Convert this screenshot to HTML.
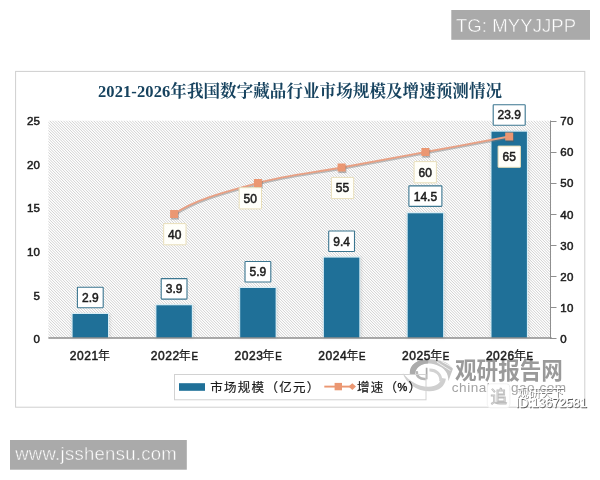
<!DOCTYPE html>
<html><head><meta charset="utf-8"><title>chart</title>
<style>html,body{margin:0;padding:0;background:#fff;}body{width:600px;height:480px;overflow:hidden;font-family:"Liberation Sans",sans-serif;}svg{display:block}text{opacity:0.999}</style>
</head><body>
<svg width="600" height="480" viewBox="0 0 600 480">
<defs>
<filter id="sh" x="-20%" y="-20%" width="150%" height="150%"><feGaussianBlur stdDeviation="1"/></filter>
<filter id="b05" x="-10%" y="-10%" width="120%" height="120%"><feGaussianBlur stdDeviation="0.4"/></filter>
</defs>
<rect width="600" height="480" fill="#fff"/>
<rect x="451.3" y="10" width="138.7" height="29.8" fill="#aaaaaa"/>
<text x="455.9" y="31.8" font-family="Liberation Sans, sans-serif" font-size="18.5" letter-spacing="0.1" fill="#fff" stroke="#aaaaaa" stroke-width="0.45">TG: MYYJJPP</text>
<rect x="10" y="440" width="176.8" height="29.7" fill="#aaaaaa"/>
<text x="15.2" y="459.8" font-family="Liberation Sans, sans-serif" font-size="18.5" letter-spacing="0.28" fill="#fff" stroke="#aaaaaa" stroke-width="0.45">www.jsshensu.com</text>
<rect x="15.6" y="71.4" width="569.2" height="335.8" fill="#fff" stroke="#cfcfcf" stroke-width="1"/>
<clipPath id="pc"><rect x="48.4" y="120.5" width="502.70000000000005" height="217.5"/></clipPath>
<path d="M-170.60,120.5l218.0,218.0M-167.85,120.5l218.0,218.0M-165.10,120.5l218.0,218.0M-162.35,120.5l218.0,218.0M-159.60,120.5l218.0,218.0M-156.85,120.5l218.0,218.0M-154.10,120.5l218.0,218.0M-151.35,120.5l218.0,218.0M-148.60,120.5l218.0,218.0M-145.85,120.5l218.0,218.0M-143.10,120.5l218.0,218.0M-140.35,120.5l218.0,218.0M-137.60,120.5l218.0,218.0M-134.85,120.5l218.0,218.0M-132.10,120.5l218.0,218.0M-129.35,120.5l218.0,218.0M-126.60,120.5l218.0,218.0M-123.85,120.5l218.0,218.0M-121.10,120.5l218.0,218.0M-118.35,120.5l218.0,218.0M-115.60,120.5l218.0,218.0M-112.85,120.5l218.0,218.0M-110.10,120.5l218.0,218.0M-107.35,120.5l218.0,218.0M-104.60,120.5l218.0,218.0M-101.85,120.5l218.0,218.0M-99.10,120.5l218.0,218.0M-96.35,120.5l218.0,218.0M-93.60,120.5l218.0,218.0M-90.85,120.5l218.0,218.0M-88.10,120.5l218.0,218.0M-85.35,120.5l218.0,218.0M-82.60,120.5l218.0,218.0M-79.85,120.5l218.0,218.0M-77.10,120.5l218.0,218.0M-74.35,120.5l218.0,218.0M-71.60,120.5l218.0,218.0M-68.85,120.5l218.0,218.0M-66.10,120.5l218.0,218.0M-63.35,120.5l218.0,218.0M-60.60,120.5l218.0,218.0M-57.85,120.5l218.0,218.0M-55.10,120.5l218.0,218.0M-52.35,120.5l218.0,218.0M-49.60,120.5l218.0,218.0M-46.85,120.5l218.0,218.0M-44.10,120.5l218.0,218.0M-41.35,120.5l218.0,218.0M-38.60,120.5l218.0,218.0M-35.85,120.5l218.0,218.0M-33.10,120.5l218.0,218.0M-30.35,120.5l218.0,218.0M-27.60,120.5l218.0,218.0M-24.85,120.5l218.0,218.0M-22.10,120.5l218.0,218.0M-19.35,120.5l218.0,218.0M-16.60,120.5l218.0,218.0M-13.85,120.5l218.0,218.0M-11.10,120.5l218.0,218.0M-8.35,120.5l218.0,218.0M-5.60,120.5l218.0,218.0M-2.85,120.5l218.0,218.0M-0.10,120.5l218.0,218.0M2.65,120.5l218.0,218.0M5.40,120.5l218.0,218.0M8.15,120.5l218.0,218.0M10.90,120.5l218.0,218.0M13.65,120.5l218.0,218.0M16.40,120.5l218.0,218.0M19.15,120.5l218.0,218.0M21.90,120.5l218.0,218.0M24.65,120.5l218.0,218.0M27.40,120.5l218.0,218.0M30.15,120.5l218.0,218.0M32.90,120.5l218.0,218.0M35.65,120.5l218.0,218.0M38.40,120.5l218.0,218.0M41.15,120.5l218.0,218.0M43.90,120.5l218.0,218.0M46.65,120.5l218.0,218.0M49.40,120.5l218.0,218.0M52.15,120.5l218.0,218.0M54.90,120.5l218.0,218.0M57.65,120.5l218.0,218.0M60.40,120.5l218.0,218.0M63.15,120.5l218.0,218.0M65.90,120.5l218.0,218.0M68.65,120.5l218.0,218.0M71.40,120.5l218.0,218.0M74.15,120.5l218.0,218.0M76.90,120.5l218.0,218.0M79.65,120.5l218.0,218.0M82.40,120.5l218.0,218.0M85.15,120.5l218.0,218.0M87.90,120.5l218.0,218.0M90.65,120.5l218.0,218.0M93.40,120.5l218.0,218.0M96.15,120.5l218.0,218.0M98.90,120.5l218.0,218.0M101.65,120.5l218.0,218.0M104.40,120.5l218.0,218.0M107.15,120.5l218.0,218.0M109.90,120.5l218.0,218.0M112.65,120.5l218.0,218.0M115.40,120.5l218.0,218.0M118.15,120.5l218.0,218.0M120.90,120.5l218.0,218.0M123.65,120.5l218.0,218.0M126.40,120.5l218.0,218.0M129.15,120.5l218.0,218.0M131.90,120.5l218.0,218.0M134.65,120.5l218.0,218.0M137.40,120.5l218.0,218.0M140.15,120.5l218.0,218.0M142.90,120.5l218.0,218.0M145.65,120.5l218.0,218.0M148.40,120.5l218.0,218.0M151.15,120.5l218.0,218.0M153.90,120.5l218.0,218.0M156.65,120.5l218.0,218.0M159.40,120.5l218.0,218.0M162.15,120.5l218.0,218.0M164.90,120.5l218.0,218.0M167.65,120.5l218.0,218.0M170.40,120.5l218.0,218.0M173.15,120.5l218.0,218.0M175.90,120.5l218.0,218.0M178.65,120.5l218.0,218.0M181.40,120.5l218.0,218.0M184.15,120.5l218.0,218.0M186.90,120.5l218.0,218.0M189.65,120.5l218.0,218.0M192.40,120.5l218.0,218.0M195.15,120.5l218.0,218.0M197.90,120.5l218.0,218.0M200.65,120.5l218.0,218.0M203.40,120.5l218.0,218.0M206.15,120.5l218.0,218.0M208.90,120.5l218.0,218.0M211.65,120.5l218.0,218.0M214.40,120.5l218.0,218.0M217.15,120.5l218.0,218.0M219.90,120.5l218.0,218.0M222.65,120.5l218.0,218.0M225.40,120.5l218.0,218.0M228.15,120.5l218.0,218.0M230.90,120.5l218.0,218.0M233.65,120.5l218.0,218.0M236.40,120.5l218.0,218.0M239.15,120.5l218.0,218.0M241.90,120.5l218.0,218.0M244.65,120.5l218.0,218.0M247.40,120.5l218.0,218.0M250.15,120.5l218.0,218.0M252.90,120.5l218.0,218.0M255.65,120.5l218.0,218.0M258.40,120.5l218.0,218.0M261.15,120.5l218.0,218.0M263.90,120.5l218.0,218.0M266.65,120.5l218.0,218.0M269.40,120.5l218.0,218.0M272.15,120.5l218.0,218.0M274.90,120.5l218.0,218.0M277.65,120.5l218.0,218.0M280.40,120.5l218.0,218.0M283.15,120.5l218.0,218.0M285.90,120.5l218.0,218.0M288.65,120.5l218.0,218.0M291.40,120.5l218.0,218.0M294.15,120.5l218.0,218.0M296.90,120.5l218.0,218.0M299.65,120.5l218.0,218.0M302.40,120.5l218.0,218.0M305.15,120.5l218.0,218.0M307.90,120.5l218.0,218.0M310.65,120.5l218.0,218.0M313.40,120.5l218.0,218.0M316.15,120.5l218.0,218.0M318.90,120.5l218.0,218.0M321.65,120.5l218.0,218.0M324.40,120.5l218.0,218.0M327.15,120.5l218.0,218.0M329.90,120.5l218.0,218.0M332.65,120.5l218.0,218.0M335.40,120.5l218.0,218.0M338.15,120.5l218.0,218.0M340.90,120.5l218.0,218.0M343.65,120.5l218.0,218.0M346.40,120.5l218.0,218.0M349.15,120.5l218.0,218.0M351.90,120.5l218.0,218.0M354.65,120.5l218.0,218.0M357.40,120.5l218.0,218.0M360.15,120.5l218.0,218.0M362.90,120.5l218.0,218.0M365.65,120.5l218.0,218.0M368.40,120.5l218.0,218.0M371.15,120.5l218.0,218.0M373.90,120.5l218.0,218.0M376.65,120.5l218.0,218.0M379.40,120.5l218.0,218.0M382.15,120.5l218.0,218.0M384.90,120.5l218.0,218.0M387.65,120.5l218.0,218.0M390.40,120.5l218.0,218.0M393.15,120.5l218.0,218.0M395.90,120.5l218.0,218.0M398.65,120.5l218.0,218.0M401.40,120.5l218.0,218.0M404.15,120.5l218.0,218.0M406.90,120.5l218.0,218.0M409.65,120.5l218.0,218.0M412.40,120.5l218.0,218.0M415.15,120.5l218.0,218.0M417.90,120.5l218.0,218.0M420.65,120.5l218.0,218.0M423.40,120.5l218.0,218.0M426.15,120.5l218.0,218.0M428.90,120.5l218.0,218.0M431.65,120.5l218.0,218.0M434.40,120.5l218.0,218.0M437.15,120.5l218.0,218.0M439.90,120.5l218.0,218.0M442.65,120.5l218.0,218.0M445.40,120.5l218.0,218.0M448.15,120.5l218.0,218.0M450.90,120.5l218.0,218.0M453.65,120.5l218.0,218.0M456.40,120.5l218.0,218.0M459.15,120.5l218.0,218.0M461.90,120.5l218.0,218.0M464.65,120.5l218.0,218.0M467.40,120.5l218.0,218.0M470.15,120.5l218.0,218.0M472.90,120.5l218.0,218.0M475.65,120.5l218.0,218.0M478.40,120.5l218.0,218.0M481.15,120.5l218.0,218.0M483.90,120.5l218.0,218.0M486.65,120.5l218.0,218.0M489.40,120.5l218.0,218.0M492.15,120.5l218.0,218.0M494.90,120.5l218.0,218.0M497.65,120.5l218.0,218.0M500.40,120.5l218.0,218.0M503.15,120.5l218.0,218.0M505.90,120.5l218.0,218.0M508.65,120.5l218.0,218.0M511.40,120.5l218.0,218.0M514.15,120.5l218.0,218.0M516.90,120.5l218.0,218.0M519.65,120.5l218.0,218.0M522.40,120.5l218.0,218.0M525.15,120.5l218.0,218.0M527.90,120.5l218.0,218.0M530.65,120.5l218.0,218.0M533.40,120.5l218.0,218.0M536.15,120.5l218.0,218.0M538.90,120.5l218.0,218.0M541.65,120.5l218.0,218.0M544.40,120.5l218.0,218.0M547.15,120.5l218.0,218.0M549.90,120.5l218.0,218.0" stroke="#d0d0d0" stroke-width="1.0" fill="none" clip-path="url(#pc)"/>
<g><text x="455" y="378.3" transform="translate(0,378.6) scale(1,1.1) translate(0,-378.3)" font-family="Liberation Sans, Noto Sans CJK SC, sans-serif" font-size="21.6" font-weight="bold" fill="#9a9a9a" opacity="0.95">观研报告网</text></g>
<text x="451.8" y="392.3" font-family="Liberation Sans, sans-serif" font-size="13.6" fill="#a4a4a4" letter-spacing="0.5">chinabaogao.com</text>
<g transform="translate(428,375) scale(1.07) translate(-428.5,-374.6)"><path d="M411.5,373.5 C411,364.5 419,359.8 430,359.8 C440,359.8 448.5,363 451.8,368.8 L447.5,380.5 C447.8,373 444,367.8 436.5,365.3 C433,364.1 430,363.8 428,363.9 C421,364.3 417,368 416.2,373.8 Z" fill="#c6c6c6"/><path d="M411.5,373.5 C411,364.5 419,359.8 429,359.8 L428.5,363.9 C421,364.3 417,368 416.2,373.8 Z" fill="#ababab"/><path d="M437,362.6 L449.5,370.5 M441,361.8 L451,367.2" stroke="#fff" stroke-width="0.9" opacity="0.8" fill="none"/><path d="M404.8,372.8 C408,382 418,390.3 430,389.8 C439,389.5 444.3,385 445.2,378 L441.2,377.5 C440.2,382.3 436,385.6 429,385.6 C419,385.6 411,380 404.8,372.8 Z" fill="#cfcfcf"/><path d="M427.2,367.8 V378.6" stroke="#ababab" stroke-width="1.6" fill="none"/><path d="M418,371 C417.4,376 421,379 426.8,378.3" stroke="#b6b6b6" stroke-width="2.4" fill="none"/><path d="M429.8,370 C436,369.8 441,374 440.4,380.5" stroke="#d2d2d2" stroke-width="2.8" fill="none"/></g>
<rect x="487.3" y="383.8" width="22.6" height="24" rx="3.5" fill="#fff" stroke="#efefef" stroke-width="0.8"/>
<text x="490.6" y="403" font-family="Liberation Sans, Noto Sans CJK SC, sans-serif" font-size="16.5" fill="#fff" stroke="#bdbdbd" stroke-width="0.85">追</text>
<g><text x="517" y="397.2" transform="translate(0.8,0.8)" font-family="Liberation Sans, Noto Sans CJK SC, sans-serif" font-size="11.7" fill="#7a7a7a">观研天下</text><text x="517" y="397.2" font-family="Liberation Sans, Noto Sans CJK SC, sans-serif" font-size="11.7" fill="#fff">观研天下</text></g>
<text x="516.6" y="408.2" font-family="Liberation Sans, sans-serif" font-size="12.4" fill="#5a5a5a" stroke="#5a5a5a" stroke-width="0.3">ID:13672581</text>
<text x="515.8" y="407.4" font-family="Liberation Sans, sans-serif" font-size="12.4" fill="#fff" stroke="#fff" stroke-width="0.3">ID:13672581</text>
<g><text x="98" y="97.2" textLength="404" lengthAdjust="spacing" font-family="Liberation Serif, Noto Serif CJK SC, serif" font-size="16.5" font-weight="bold" fill="#17435f">2021-2026年我国数字藏品行业市场规模及增速预测情况</text></g>
<text x="40.3" y="343.1" text-anchor="end" font-family="Liberation Sans, sans-serif" font-size="11.5" letter-spacing="0.3" fill="#1c1c1c" stroke="#1c1c1c" stroke-width="0.5">0</text>
<text x="40.3" y="299.5" text-anchor="end" font-family="Liberation Sans, sans-serif" font-size="11.5" letter-spacing="0.3" fill="#1c1c1c" stroke="#1c1c1c" stroke-width="0.5">5</text>
<text x="40.3" y="255.9" text-anchor="end" font-family="Liberation Sans, sans-serif" font-size="11.5" letter-spacing="0.3" fill="#1c1c1c" stroke="#1c1c1c" stroke-width="0.5">10</text>
<text x="40.3" y="212.3" text-anchor="end" font-family="Liberation Sans, sans-serif" font-size="11.5" letter-spacing="0.3" fill="#1c1c1c" stroke="#1c1c1c" stroke-width="0.5">15</text>
<text x="40.3" y="168.7" text-anchor="end" font-family="Liberation Sans, sans-serif" font-size="11.5" letter-spacing="0.3" fill="#1c1c1c" stroke="#1c1c1c" stroke-width="0.5">20</text>
<text x="40.3" y="125.1" text-anchor="end" font-family="Liberation Sans, sans-serif" font-size="11.5" letter-spacing="0.3" fill="#1c1c1c" stroke="#1c1c1c" stroke-width="0.5">25</text>
<path d="M550.5,120.5 V338.0" stroke="#8f8f8f" stroke-width="1" fill="none"/>
<path d="M550,338.5 h6.5" stroke="#8f8f8f" stroke-width="1" fill="none"/>
<text x="560.3" y="343.1" font-family="Liberation Sans, sans-serif" font-size="11.5" letter-spacing="0.3" fill="#1c1c1c" stroke="#1c1c1c" stroke-width="0.5">0</text>
<path d="M550,307.5 h6.5" stroke="#8f8f8f" stroke-width="1" fill="none"/>
<text x="560.3" y="312.0" font-family="Liberation Sans, sans-serif" font-size="11.5" letter-spacing="0.3" fill="#1c1c1c" stroke="#1c1c1c" stroke-width="0.5">10</text>
<path d="M550,276.5 h6.5" stroke="#8f8f8f" stroke-width="1" fill="none"/>
<text x="560.3" y="280.8" font-family="Liberation Sans, sans-serif" font-size="11.5" letter-spacing="0.3" fill="#1c1c1c" stroke="#1c1c1c" stroke-width="0.5">20</text>
<path d="M550,245.5 h6.5" stroke="#8f8f8f" stroke-width="1" fill="none"/>
<text x="560.3" y="249.7" font-family="Liberation Sans, sans-serif" font-size="11.5" letter-spacing="0.3" fill="#1c1c1c" stroke="#1c1c1c" stroke-width="0.5">30</text>
<path d="M550,214.5 h6.5" stroke="#8f8f8f" stroke-width="1" fill="none"/>
<text x="560.3" y="218.5" font-family="Liberation Sans, sans-serif" font-size="11.5" letter-spacing="0.3" fill="#1c1c1c" stroke="#1c1c1c" stroke-width="0.5">40</text>
<path d="M550,183.5 h6.5" stroke="#8f8f8f" stroke-width="1" fill="none"/>
<text x="560.3" y="187.4" font-family="Liberation Sans, sans-serif" font-size="11.5" letter-spacing="0.3" fill="#1c1c1c" stroke="#1c1c1c" stroke-width="0.5">50</text>
<path d="M550,152.5 h6.5" stroke="#8f8f8f" stroke-width="1" fill="none"/>
<text x="560.3" y="156.2" font-family="Liberation Sans, sans-serif" font-size="11.5" letter-spacing="0.3" fill="#1c1c1c" stroke="#1c1c1c" stroke-width="0.5">60</text>
<path d="M550,121.5 h6.5" stroke="#8f8f8f" stroke-width="1" fill="none"/>
<text x="560.3" y="125.1" font-family="Liberation Sans, sans-serif" font-size="11.5" letter-spacing="0.3" fill="#1c1c1c" stroke="#1c1c1c" stroke-width="0.5">70</text>
<rect x="71.1" y="313.3" width="39.4" height="25.2" fill="#444" opacity="0.12" filter="url(#sh)"/>
<rect x="71.5" y="312.8" width="37.6" height="25.2" fill="#d9eef6"/>
<rect x="72.6" y="314.0" width="35.4" height="24.0" fill="#1f7098"/>
<rect x="154.9" y="304.6" width="39.4" height="33.9" fill="#444" opacity="0.12" filter="url(#sh)"/>
<rect x="155.3" y="304.1" width="37.6" height="33.9" fill="#d9eef6"/>
<rect x="156.4" y="305.3" width="35.4" height="32.7" fill="#1f7098"/>
<rect x="238.7" y="287.3" width="39.4" height="51.2" fill="#444" opacity="0.12" filter="url(#sh)"/>
<rect x="239.1" y="286.8" width="37.6" height="51.2" fill="#d9eef6"/>
<rect x="240.2" y="288.0" width="35.4" height="50.0" fill="#1f7098"/>
<rect x="322.4" y="256.9" width="39.4" height="81.6" fill="#444" opacity="0.12" filter="url(#sh)"/>
<rect x="322.8" y="256.4" width="37.6" height="81.6" fill="#d9eef6"/>
<rect x="323.9" y="257.6" width="35.4" height="80.4" fill="#1f7098"/>
<rect x="406.2" y="212.6" width="39.4" height="125.9" fill="#444" opacity="0.12" filter="url(#sh)"/>
<rect x="406.6" y="212.1" width="37.6" height="125.9" fill="#d9eef6"/>
<rect x="407.7" y="213.3" width="35.4" height="124.7" fill="#1f7098"/>
<rect x="490.0" y="131.0" width="39.4" height="207.5" fill="#444" opacity="0.12" filter="url(#sh)"/>
<rect x="490.4" y="130.5" width="37.6" height="207.5" fill="#d9eef6"/>
<rect x="491.5" y="131.7" width="35.4" height="206.3" fill="#1f7098"/>
<path d="M48.4,338.0 H551.7" stroke="#8e8e8e" stroke-width="1.3" fill="none"/>
<text x="69.8" y="360.0" font-family="Liberation Sans, sans-serif" font-size="12" letter-spacing="0.55" fill="#1c1c1c" stroke="#1c1c1c" stroke-width="0.5">2021</text>
<text x="97.9" y="360" font-family="Liberation Sans, Noto Sans CJK SC, sans-serif" font-size="12" fill="#1c1c1c" stroke="#1c1c1c" stroke-width="0.15">年</text>
<text x="150.8" y="360.0" font-family="Liberation Sans, sans-serif" font-size="12" letter-spacing="0.55" fill="#1c1c1c" stroke="#1c1c1c" stroke-width="0.5">2022</text>
<text x="178.8" y="360" font-family="Liberation Sans, Noto Sans CJK SC, sans-serif" font-size="12" fill="#1c1c1c" stroke="#1c1c1c" stroke-width="0.15">年</text>
<text x="191.4" y="360.1" font-family="Liberation Sans, sans-serif" font-size="10.8" fill="#1c1c1c" stroke="#1c1c1c" stroke-width="0.5" transform="translate(191.4,0) scale(0.9,1) translate(-191.4,0)">E</text>
<text x="234.6" y="360.0" font-family="Liberation Sans, sans-serif" font-size="12" letter-spacing="0.55" fill="#1c1c1c" stroke="#1c1c1c" stroke-width="0.5">2023</text>
<text x="262.6" y="360" font-family="Liberation Sans, Noto Sans CJK SC, sans-serif" font-size="12" fill="#1c1c1c" stroke="#1c1c1c" stroke-width="0.15">年</text>
<text x="275.2" y="360.1" font-family="Liberation Sans, sans-serif" font-size="10.8" fill="#1c1c1c" stroke="#1c1c1c" stroke-width="0.5" transform="translate(275.2,0) scale(0.9,1) translate(-275.2,0)">E</text>
<text x="318.3" y="360.0" font-family="Liberation Sans, sans-serif" font-size="12" letter-spacing="0.55" fill="#1c1c1c" stroke="#1c1c1c" stroke-width="0.5">2024</text>
<text x="346.4" y="360" font-family="Liberation Sans, Noto Sans CJK SC, sans-serif" font-size="12" fill="#1c1c1c" stroke="#1c1c1c" stroke-width="0.15">年</text>
<text x="358.9" y="360.1" font-family="Liberation Sans, sans-serif" font-size="10.8" fill="#1c1c1c" stroke="#1c1c1c" stroke-width="0.5" transform="translate(358.9,0) scale(0.9,1) translate(-358.9,0)">E</text>
<text x="402.1" y="360.0" font-family="Liberation Sans, sans-serif" font-size="12" letter-spacing="0.55" fill="#1c1c1c" stroke="#1c1c1c" stroke-width="0.5">2025</text>
<text x="430.2" y="360" font-family="Liberation Sans, Noto Sans CJK SC, sans-serif" font-size="12" fill="#1c1c1c" stroke="#1c1c1c" stroke-width="0.15">年</text>
<text x="442.7" y="360.1" font-family="Liberation Sans, sans-serif" font-size="10.8" fill="#1c1c1c" stroke="#1c1c1c" stroke-width="0.5" transform="translate(442.7,0) scale(0.9,1) translate(-442.7,0)">E</text>
<text x="485.9" y="360.0" font-family="Liberation Sans, sans-serif" font-size="12" letter-spacing="0.55" fill="#1c1c1c" stroke="#1c1c1c" stroke-width="0.5">2026</text>
<text x="514" y="360" font-family="Liberation Sans, Noto Sans CJK SC, sans-serif" font-size="12" fill="#1c1c1c" stroke="#1c1c1c" stroke-width="0.15">年</text>
<text x="526.5" y="360.1" font-family="Liberation Sans, sans-serif" font-size="10.8" fill="#1c1c1c" stroke="#1c1c1c" stroke-width="0.5" transform="translate(526.5,0) scale(0.9,1) translate(-526.5,0)">E</text>
<path d="M174.1,214.0 C196.1,198.5 229.9,190.8 257.9,183.0 C285.8,175.2 313.7,172.7 341.6,167.5 C369.6,162.3 397.5,157.2 425.4,152.0 C453.4,146.8 495.2,139.1 509.2,136.5" transform="translate(0.8,1.2)" stroke="#777" stroke-width="2" fill="none" opacity="0.45" filter="url(#b05)"/>
<path d="M174.1,214.0 C196.1,198.5 229.9,190.8 257.9,183.0 C285.8,175.2 313.7,172.7 341.6,167.5 C369.6,162.3 397.5,157.2 425.4,152.0 C453.4,146.8 495.2,139.1 509.2,136.5" stroke="#e8a084" stroke-width="1.8" fill="none"/>
<rect x="170.9" y="211.6" width="8" height="8" fill="#555" opacity="0.4" filter="url(#b05)"/>
<rect x="170.1" y="210.0" width="8" height="8" fill="#eb9772"/>
<rect x="254.7" y="180.6" width="8" height="8" fill="#555" opacity="0.4" filter="url(#b05)"/>
<rect x="253.9" y="179.0" width="8" height="8" fill="#eb9772"/>
<rect x="338.4" y="165.1" width="8" height="8" fill="#555" opacity="0.4" filter="url(#b05)"/>
<rect x="337.6" y="163.5" width="8" height="8" fill="#eb9772"/>
<rect x="422.2" y="149.6" width="8" height="8" fill="#555" opacity="0.4" filter="url(#b05)"/>
<rect x="421.4" y="148.0" width="8" height="8" fill="#eb9772"/>
<rect x="506.0" y="134.1" width="8" height="8" fill="#555" opacity="0.4" filter="url(#b05)"/>
<rect x="505.2" y="132.5" width="8" height="8" fill="#eb9772"/>
<rect x="77.4" y="287.2" width="25.8" height="20.5" rx="0.6" fill="#fff" stroke="#3b7690" stroke-width="1.1"/>
<text x="90.3" y="301.8" text-anchor="middle" font-family="Liberation Sans, sans-serif" font-size="12" fill="#1c1c1c" stroke="#1c1c1c" stroke-width="0.5">2.9</text>
<rect x="161.2" y="278.6" width="25.8" height="20.5" rx="0.6" fill="#fff" stroke="#3b7690" stroke-width="1.1"/>
<text x="174.1" y="293.2" text-anchor="middle" font-family="Liberation Sans, sans-serif" font-size="12" fill="#1c1c1c" stroke="#1c1c1c" stroke-width="0.5">3.9</text>
<rect x="245.0" y="261.5" width="25.8" height="20.5" rx="0.6" fill="#fff" stroke="#3b7690" stroke-width="1.1"/>
<text x="257.9" y="276.2" text-anchor="middle" font-family="Liberation Sans, sans-serif" font-size="12" fill="#1c1c1c" stroke="#1c1c1c" stroke-width="0.5">5.9</text>
<rect x="328.7" y="231.0" width="25.8" height="20.5" rx="0.6" fill="#fff" stroke="#3b7690" stroke-width="1.1"/>
<text x="341.6" y="245.6" text-anchor="middle" font-family="Liberation Sans, sans-serif" font-size="12" fill="#1c1c1c" stroke="#1c1c1c" stroke-width="0.5">9.4</text>
<rect x="408.9" y="185.9" width="33.0" height="20.5" rx="0.6" fill="#fff" stroke="#3b7690" stroke-width="1.1"/>
<text x="425.4" y="200.5" text-anchor="middle" font-family="Liberation Sans, sans-serif" font-size="12" fill="#1c1c1c" stroke="#1c1c1c" stroke-width="0.5">14.5</text>
<rect x="493.2" y="104.8" width="32.0" height="20.5" rx="0.6" fill="#fff" stroke="#3b7690" stroke-width="1.1"/>
<text x="509.2" y="119.4" text-anchor="middle" font-family="Liberation Sans, sans-serif" font-size="12" fill="#1c1c1c" stroke="#1c1c1c" stroke-width="0.5">23.9</text>
<rect x="163.7" y="223.6" width="22.3" height="21.2" rx="0.3" fill="#fffffa" stroke="#e9dfba" stroke-width="1.0"/>
<text x="174.8" y="238.6" text-anchor="middle" font-family="Liberation Sans, sans-serif" font-size="12" fill="#1c1c1c" stroke="#1c1c1c" stroke-width="0.5">40</text>
<rect x="239.2" y="187.7" width="22.3" height="21.2" rx="0.3" fill="#fffffa" stroke="#e9dfba" stroke-width="1.0"/>
<text x="250.3" y="202.7" text-anchor="middle" font-family="Liberation Sans, sans-serif" font-size="12" fill="#1c1c1c" stroke="#1c1c1c" stroke-width="0.5">50</text>
<rect x="331.4" y="177.4" width="22.3" height="21.2" rx="0.3" fill="#fffffa" stroke="#e9dfba" stroke-width="1.0"/>
<text x="342.5" y="192.4" text-anchor="middle" font-family="Liberation Sans, sans-serif" font-size="12" fill="#1c1c1c" stroke="#1c1c1c" stroke-width="0.5">55</text>
<rect x="414.1" y="161.6" width="22.3" height="21.2" rx="0.3" fill="#fffffa" stroke="#e9dfba" stroke-width="1.0"/>
<text x="425.2" y="176.6" text-anchor="middle" font-family="Liberation Sans, sans-serif" font-size="12" fill="#1c1c1c" stroke="#1c1c1c" stroke-width="0.5">60</text>
<rect x="498.1" y="146.1" width="22.3" height="21.2" rx="0.3" fill="#fffffa" stroke="#e9dfba" stroke-width="1.0"/>
<text x="509.2" y="161.1" text-anchor="middle" font-family="Liberation Sans, sans-serif" font-size="12" fill="#1c1c1c" stroke="#1c1c1c" stroke-width="0.5">65</text>
<rect x="174.5" y="374.5" width="251.5" height="25.3" fill="none" stroke="#d2d2d2" stroke-width="1"/>
<rect x="179" y="383.2" width="26" height="7.6" fill="#1f7098"/>
<text x="210.2" y="391.5" font-family="Liberation Sans, Noto Sans CJK SC, sans-serif" font-size="12.5" letter-spacing="1.3" fill="#1c1c1c" stroke="#1c1c1c" stroke-width="0.2">市场规模（亿元）</text>
<path d="M324.3,386.6 H352" stroke="#eb9772" stroke-width="1.9" fill="none"/>
<rect x="334.6" y="382.9" width="7.4" height="7.4" fill="#eb9772"/>
<path d="M348.6,386.6 l3.7,-3.4 l3.7,3.4 l-3.7,3.4 z" fill="#eb9772"/>
<text x="357" y="391.5" font-family="Liberation Sans, Noto Sans CJK SC, sans-serif" font-size="12.5" letter-spacing="1.3" fill="#1c1c1c" stroke="#1c1c1c" stroke-width="0.2">增速（</text>
<text x="408.4" y="391.5" font-family="Liberation Sans, Noto Sans CJK SC, sans-serif" font-size="12.5" fill="#1c1c1c" stroke="#1c1c1c" stroke-width="0.2">）</text>
<text x="397.6" y="391.3" font-family="Liberation Sans, sans-serif" font-size="11" fill="#1c1c1c" stroke="#1c1c1c" stroke-width="0.45">%</text>
</svg>
</body></html>
